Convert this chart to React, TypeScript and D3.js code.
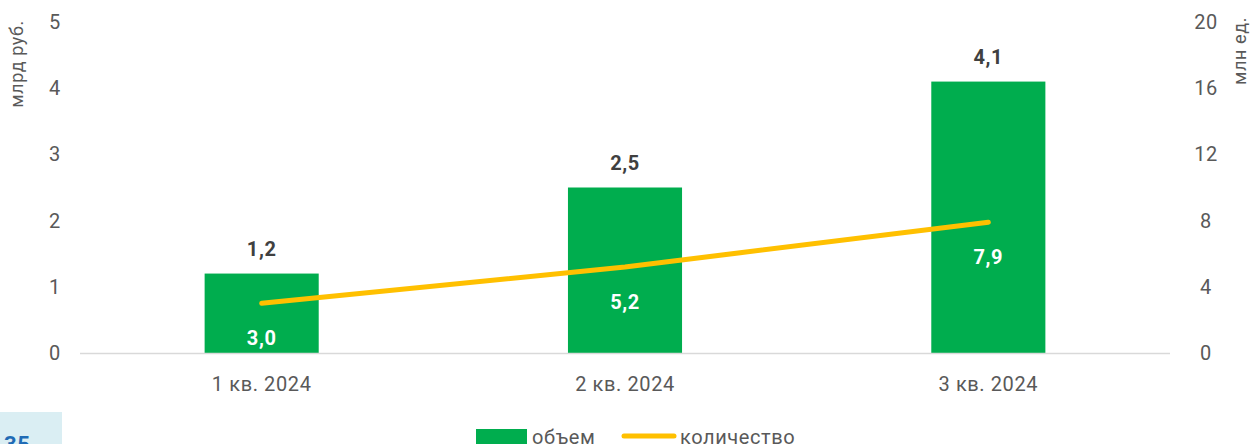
import React from "react";
import * as d3 from "d3";

const categories = ["1 кв. 2024", "2 кв. 2024", "3 кв. 2024"];
const volume = [1.2, 2.5, 4.1]; // млрд руб.
const count = [3.0, 5.2, 7.9]; // млн ед.
const leftTicks = [0, 1, 2, 3, 4, 5];
const rightTicks = [0, 4, 8, 12, 16, 20];

const W = 1253;
const H = 444;
const FONT = "Roboto, 'Noto Sans', sans-serif";
const GREEN = "#00ad4e";
const YELLOW = "#ffc000";
const TEXT = "#595959";
const LS = 0.6;

const fmt = (v: number) => v.toFixed(1).replace(".", ",");

export default function App() {
  const x = d3.scaleBand<string>().domain(categories).range([80, 1170]).paddingInner(0.686).paddingOuter(0.343);
  const yL = d3.scaleLinear().domain([0, 5]).range([353, 22]);
  const yR = d3.scaleLinear().domain([0, 20]).range([353, 22]);
  const cx = (c: string) => (x(c) ?? 0) + x.bandwidth() / 2;

  const line = d3
    .line<number>()
    .x((_, i) => cx(categories[i]))
    .y((d) => yR(d));

  return (
    <svg
      width={W}
      height={H}
      style={{ position: "fixed", left: 0, top: 0, background: "#fff" }}
      fontFamily={FONT}
      letterSpacing={LS}
    >
      {/* axis titles */}
      <text transform={`translate(23,64) rotate(-90)`} textAnchor="middle" fontSize={18} fill={TEXT}>
        млрд руб.
      </text>
      <text transform={`translate(1246,51) rotate(-90)`} textAnchor="middle" fontSize={18} fill={TEXT}>
        млн ед.
      </text>

      {/* left ticks */}
      {leftTicks.map((t) => (
        <text key={"l" + t} x={55} y={yL(t)} dy="0.35em" textAnchor="middle" fontSize={20} fill={TEXT}>
          {t}
        </text>
      ))}
      {/* right ticks */}
      {rightTicks.map((t) => (
        <text key={"r" + t} x={1206} y={yR(t)} dy="0.35em" textAnchor="middle" fontSize={20} fill={TEXT}>
          {t}
        </text>
      ))}

      {/* bars */}
      {categories.map((c, i) => (
        <rect key={c} x={x(c)} y={yL(volume[i])} width={x.bandwidth()} height={yL(0) - yL(volume[i])} fill={GREEN} />
      ))}

      {/* baseline */}
      <line x1={80} x2={1170} y1={353.5} y2={353.5} stroke="#d9d9d9" strokeWidth={1.5} />

      {/* bar value labels */}
      {categories.map((c, i) => (
        <text
          key={"bv" + c}
          x={cx(c)}
          y={yL(volume[i]) - 25}
          dy="0.35em"
          textAnchor="middle"
          fontSize={20}
          fontWeight={700}
          fill="#404040"
        >
          {fmt(volume[i])}
        </text>
      ))}

      {/* count line */}
      <path d={line(count) ?? ""} fill="none" stroke={YELLOW} strokeWidth={5} strokeLinecap="round" />

      {/* count labels */}
      {categories.map((c, i) => (
        <text
          key={"cv" + c}
          x={cx(c)}
          y={yR(count[i]) + 35}
          dy="0.35em"
          textAnchor="middle"
          fontSize={20}
          fontWeight={700}
          fill="#ffffff"
        >
          {fmt(count[i])}
        </text>
      ))}

      {/* x axis labels */}
      {categories.map((c) => (
        <text key={"x" + c} x={cx(c)} y={384} dy="0.35em" textAnchor="middle" fontSize={20} fill={TEXT}>
          {c}
        </text>
      ))}

      {/* legend */}
      <rect x={476} y={429} width={51} height={16} fill={GREEN} />
      <text x={532} y={437} dy="0.35em" fontSize={20} fill={TEXT}>
        объем
      </text>
      <line x1={624} x2={674} y1={436} y2={436} stroke={YELLOW} strokeWidth={5} strokeLinecap="round" />
      <text x={680} y={437} dy="0.35em" fontSize={20} fill={TEXT}>
        количество
      </text>

      {/* page number tab */}
      <rect x={0} y={412} width={62} height={32} fill="#daeef3" />
      <text x={4} y={452} fontSize={22} fontWeight={700} fill="#1f6bb5">
        35
      </text>
    </svg>
  );
}
